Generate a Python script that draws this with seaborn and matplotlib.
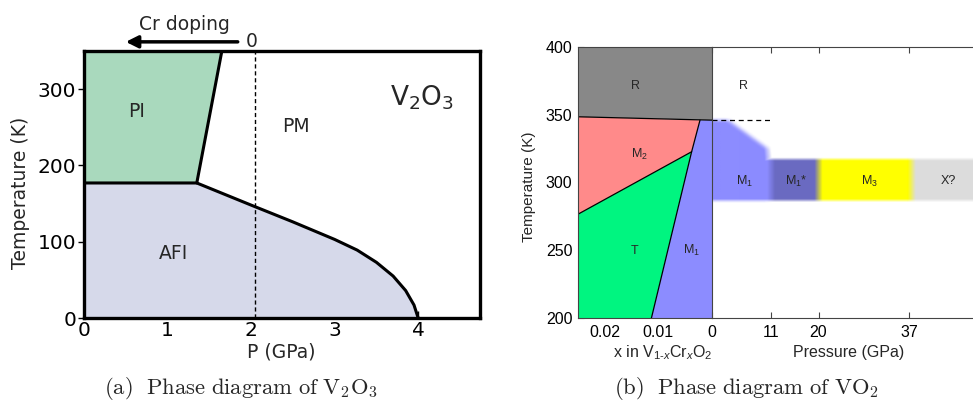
import numpy as np
import matplotlib
matplotlib.use('Agg')
import matplotlib.pyplot as plt
import matplotlib.colors as mcolors
import seaborn as sns

# ------- DATA -------

# (a) V2O3 phase diagram, pressure (GPa) vs temperature (K)
pi_p = [0, 1.65, 1.35, 0]
pi_t = [350, 350, 177, 177]
afi_p = [0, 1.35, 2.0, 2.5, 3.0, 3.27, 3.5, 3.7, 3.85, 3.95, 4.0, 0]
afi_t = [177, 177, 148, 126, 103, 89, 73, 55, 36, 17, 0, 0]
pm_edge_p = [1.65, 1.35, 0]
pm_edge_t = [350, 177, 177]
afi_edge_p = afi_p[1:-1]
afi_edge_t = afi_t[1:-1]
cr_zero_p = 2.05
a_xticks = [0, 1, 2, 3, 4]
a_yticks = [0, 100, 200, 300]
a_labels = ['PI', 'PM', 'AFI']
a_label_p = [0.63, 2.54, 1.07]
a_label_t = [271, 251, 85]

# (b) VO2, left: Cr content x, right: pressure (GPa)
r_x = [0.025, 0, 0, 0.025]
r_t = [400, 400, 346, 348.5]
m2_x = [0.025, 0.00224, 0.0038, 0.025]
m2_t = [348.5, 346, 322.7, 276.6]
tphase_x = [0.025, 0.0038, 0.0113, 0.025]
tphase_t = [276.6, 322.7, 200, 200]
m1_x = [0.00224, 0, 0, 0.0113, 0.0038]
m1_t = [346, 346, 200, 200, 322.7]
top_edge_x = [0.025, 0]
top_edge_t = [348.5, 346]
m1_edge_x = [0.00224, 0.0038, 0.0113]
m1_edge_t = [346, 322.7, 200]
m2_edge_x = [0.025, 0.0038]
m2_edge_t = [276.6, 322.7]
b1_labels = ['R', 'M$_2$', 'T', 'M$_1$']
b1_label_x = [0.0142, 0.0136, 0.0144, 0.0038]
b1_label_t = [371.5, 321, 249.5, 249.5]

band_bounds = [0, 11.1, 20.0, 37.5, 49]
band_colors = ['#8c8cff', '#6a6ac2', '#ffff00', '#dcdcdc']
band_t = [287, 317.5]
m1_top_p = [0, 3, 10.4, 10.5]
m1_top_t = [346, 346, 325, 317.5]
b2_labels = ['R', 'M$_1$', 'M$_1$*', 'M$_3$', 'X?']
b2_label_p = [5.9, 6.2, 15.9, 29.5, 44.3]
b2_label_t = [371.5, 301, 301, 301, 301]
b1_xticks = [0.02, 0.01]
b2_xticks = [0, 11, 20, 37]
b_yticks = [200, 250, 300, 350, 400]

# ------- STYLE -------

sns.set_theme(style='white')
plt.rcParams['font.family'] = ['DejaVu Sans']
plt.rcParams['mathtext.fontset'] = 'custom'
plt.rcParams['mathtext.rm'] = 'Liberation Sans'
plt.rcParams['mathtext.it'] = 'Liberation Sans:italic'
plt.rcParams['mathtext.bf'] = 'Liberation Sans:bold'

W, H = 973, 403
fig = plt.figure(figsize=(W / 100, H / 100), dpi=100)


def px_axes(left, top, right, bottom):
    return fig.add_axes([left / W, (H - bottom) / H, (right - left) / W, (bottom - top) / H])


def box_blur(a, k, axis):
    if k <= 1:
        return a
    pad = [(0, 0)] * a.ndim
    pad[axis] = (k // 2, k - 1 - k // 2)
    ap = np.pad(a, pad, mode='edge')
    c = np.cumsum(ap, axis=axis)
    c = np.insert(c, 0, 0, axis=axis)
    n = a.shape[axis]
    return (np.take(c, np.arange(k, k + n), axis=axis) - np.take(c, np.arange(0, n), axis=axis)) / k


# ------- PANEL (a) -------

ax_a = px_axes(84, 51, 480, 318)
ax_a.fill(pi_p, pi_t, color='#a9d9bd', lw=0)
ax_a.fill(afi_p, afi_t, color='#d6d9ea', lw=0)
sns.lineplot(x=pm_edge_p, y=pm_edge_t, sort=False, estimator=None, color='black', lw=2.2, ax=ax_a)
sns.lineplot(x=afi_edge_p, y=afi_edge_t, sort=False, estimator=None, color='black', lw=2.2, ax=ax_a)
ax_a.axvline(cr_zero_p, ls=(0, (3, 2)), color='black', lw=1)
ax_a.set_xlim(0, 4.74)
ax_a.set_ylim(0, 350)
ax_a.set_xticks(a_xticks)
ax_a.set_yticks(a_yticks)
ax_a.tick_params(axis='x', bottom=True, direction='in', length=5, width=1, labelsize=14.5, pad=2, colors='black')
ax_a.tick_params(axis='y', left=True, direction='inout', length=9, width=1, labelsize=14.5, pad=1, colors='black')
for s in ax_a.spines.values():
    s.set_color('black')
    s.set_linewidth(2.4)
for lab, p, t in zip(a_labels, a_label_p, a_label_t):
    ax_a.text(p, t, lab, ha='center', va='center', fontsize=13.5)
ax_a.text(4.05, 289, 'V$_2$O$_3$', ha='center', va='center', fontsize=19, math_fontfamily='dejavusans')
ax_a.annotate('', xy=(0.5, 362), xytext=(1.84, 362), xycoords='data',
              arrowprops=dict(arrowstyle='-|>', lw=2.5, color='black', mutation_scale=18, shrinkA=0, shrinkB=0),
              annotation_clip=False)
ax_a.text(2.01, 362, '0', ha='center', va='center', fontsize=13.5, clip_on=False)
ax_a.text(1.2, 385, 'Cr doping', ha='center', va='center', fontsize=13.5, clip_on=False)
ax_a.set_xlabel('')
ax_a.set_ylabel('')
fig.text(281 / W, (H - 352) / H, 'P (GPa)', ha='center', va='center', fontsize=13.5)
fig.text(20.5 / W, (H - 193) / H, 'Temperature (K)', ha='center', va='center', rotation=90, fontsize=13.5)
fig.text(241.5 / W, (H - 389) / H, r'$\mathrm{(a)\ \ Phase\ diagram\ of\ V_2O_3}$',
         ha='center', va='center', fontsize=16.3, math_fontfamily='cm')

# ------- PANEL (b) -------

spine_col = '#444444'
ax_b1 = px_axes(578, 47, 712, 318)
ax_b2 = px_axes(712, 47, 973, 318)

ax_b1.fill(r_x, r_t, color='#888888', lw=0)
ax_b1.fill(m2_x, m2_t, color='#ff8a8a', lw=0)
ax_b1.fill(tphase_x, tphase_t, color='#00f580', lw=0)
ax_b1.fill(m1_x, m1_t, color='#8c8cff', lw=0)
for ex, et in [(top_edge_x, top_edge_t), (m1_edge_x, m1_edge_t), (m2_edge_x, m2_edge_t)]:
    sns.lineplot(x=ex, y=et, sort=False, estimator=None, color='black', lw=0.9, ax=ax_b1)
ax_b1.set_xlim(0.025, 0)
ax_b1.set_ylim(200, 400)
ax_b1.set_xticks(b1_xticks)
ax_b1.set_xticklabels(['0.02', '0.01'])
ax_b1.set_yticks(b_yticks)
for lab, x, t in zip(b1_labels, b1_label_x, b1_label_t):
    ax_b1.text(x, t, lab, ha='center', va='center', fontsize=9, family='Liberation Sans')

# blurred pressure band
P = (np.arange(490) + 0.5) * 0.1
T = 280 + (np.arange(140) + 0.5) * 0.5
idx = np.clip(np.searchsorted(band_bounds, P, side='right') - 1, 0, len(band_colors) - 1)
rgb = np.array([mcolors.to_rgb(c) for c in band_colors])[idx]
rgb = box_blur(rgb, 15, 0)
band_a = ((T >= band_t[0]) & (T <= band_t[1])).astype(float)[:, None] * np.ones(len(P))[None, :]
band_a = box_blur(band_a, 5, 0)
upper = ((P[None, :] <= m1_top_p[-1]) & (T[:, None] <= np.interp(P, m1_top_p, m1_top_t)[None, :])
         & (T[:, None] >= band_t[0])).astype(float)
upper = box_blur(box_blur(upper, 8, 0), 14, 1)
alpha = np.maximum(band_a, upper)
img = np.dstack([np.broadcast_to(rgb[None, :, :], (len(T), len(P), 3)), alpha])
ax_b2.imshow(img, extent=[0, 49, 280, 350], origin='lower', aspect='auto', interpolation='bilinear', zorder=0)
sns.lineplot(x=[0, 11], y=[346, 346], estimator=None, color='black', lw=0.9, linestyle=(0, (4, 3)), ax=ax_b2)
ax_b2.set_xlim(0, 49)
ax_b2.set_ylim(200, 400)
ax_b2.set_xticks(b2_xticks)
ax_b2.set_yticks([])
for lab, p, t in zip(b2_labels, b2_label_p, b2_label_t):
    ax_b2.text(p, t, lab, ha='center', va='center', fontsize=9, family='Liberation Sans')

for ax in (ax_b1, ax_b2):
    for s in ax.spines.values():
        s.set_color(spine_col)
        s.set_linewidth(0.8)
    ax.tick_params(axis='x', bottom=True, top=True, direction='in', length=4, width=0.8,
                   color=spine_col, labelsize=11.5, pad=5, labelcolor='black')
    ax.set_xlabel('')
    ax.set_ylabel('')
    for lbl in ax.get_xticklabels() + ax.get_yticklabels():
        lbl.set_fontfamily('Liberation Sans')
ax_b1.tick_params(axis='y', left=True, direction='in', length=4, width=0.8, color=spine_col,
                  labelsize=11.5, pad=4, labelcolor='black')
for lbl in ax_b1.get_yticklabels():
    lbl.set_fontfamily('Liberation Sans')
ax_b1.spines['right'].set_visible(False)
ax_b2.spines['right'].set_visible(False)

fig.text(529 / W, (H - 187) / H, 'Temperature (K)', ha='center', va='center', rotation=90,
         fontsize=11, family='Liberation Sans')
fig.text(663 / W, (H - 353) / H, 'x in V$_{1\\text{-}x}$Cr$_x$O$_2$', ha='center', va='center',
         fontsize=11.5, family='Liberation Sans')
fig.text(849 / W, (H - 353) / H, 'Pressure (GPa)', ha='center', va='center', fontsize=11.5,
         family='Liberation Sans')
fig.text(746.5 / W, (H - 389) / H, r'$\mathrm{(b)\ \ Phase\ diagram\ of\ VO_2}$',
         ha='center', va='center', fontsize=16.3, math_fontfamily='cm')

plt.savefig('out.png', dpi=100)
plt.close()
